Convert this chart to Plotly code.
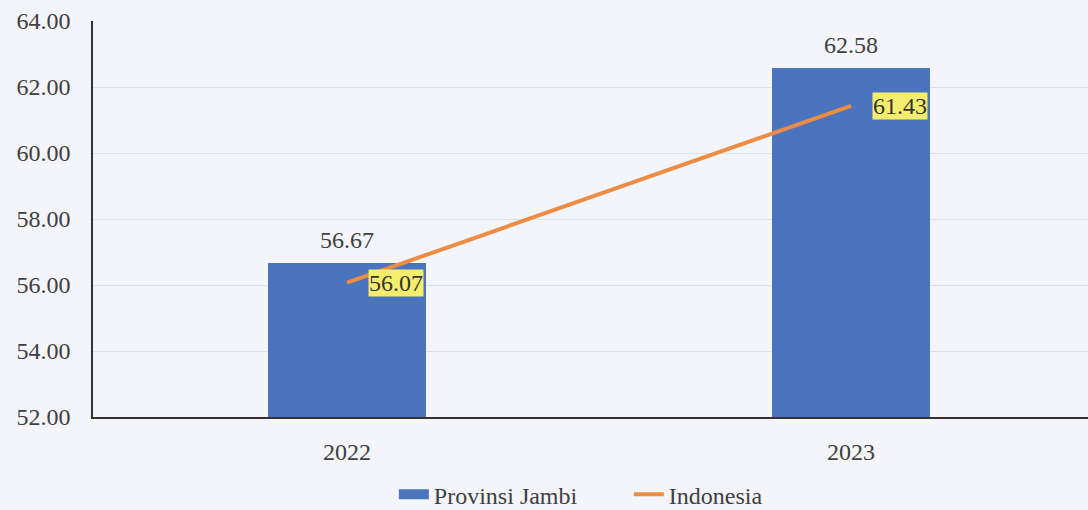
import plotly.graph_objects as go

years = ["2022", "2023"]
jambi = [56.67, 62.58]
indonesia = [56.07, 61.43]
yticks = [52, 54, 56, 58, 60, 62, 64]

xpos = list(range(len(years)))
font_family = "Liberation Serif, Times New Roman, serif"
blue = "#4A74BD"
orange = "#EC8C45"
fs = 24

fig = go.Figure()
fig.add_trace(go.Bar(
    x=xpos, y=[v - 52 for v in jambi], base=52, name="Provinsi Jambi",
    marker=dict(color=blue, line=dict(width=0)), width=0.313,
    showlegend=False,
))
for xi, v in zip(xpos, jambi):
    fig.add_annotation(
        x=xi, y=v, text=f"{v:.2f}", showarrow=False, xanchor="center", yanchor="bottom",
        yshift=8, font=dict(family=font_family, size=fs, color="#404040"),
    )
# legend proxy for bar series (wide bar-like symbol)
fig.add_trace(go.Scatter(
    x=[None], y=[None], mode="lines", name="Provinsi Jambi",
    line=dict(color=blue, width=11),
))
fig.add_trace(go.Scatter(
    x=xpos, y=indonesia, name="Indonesia", mode="lines",
    line=dict(color=orange, width=4),
))
for xi, v in zip(xpos, indonesia):
    fig.add_annotation(
        x=xi, y=v, text=f"{v:.2f}", showarrow=False, xanchor="left", yanchor="middle",
        xshift=21, bgcolor="#F4EE6C", borderpad=0,
        font=dict(family=font_family, size=fs, color="#333333"),
    )

fig.update_layout(
    width=1088, height=510,
    margin=dict(l=93, r=0, t=21, b=93, autoexpand=False),
    paper_bgcolor="#F4F5FA", plot_bgcolor="#F4F5FA",
    font=dict(family=font_family, size=fs, color="#404040"),
    showlegend=True,
    legend=dict(orientation="h", xref="container", yref="container",
                x=0.578, xanchor="center", y=0.03, yanchor="middle",
                font=dict(family=font_family, size=fs, color="#404040"),
                itemwidth=30, entrywidth=190, bgcolor="rgba(0,0,0,0)"),
    bargap=0,
)
fig.update_xaxes(
    range=[-0.504, 1.47], tickvals=xpos, ticktext=years, showgrid=False,
    showline=True, linecolor="#333333", linewidth=1.5, ticks="",
    ticklabelstandoff=12,
    tickfont=dict(family=font_family, size=fs, color="#404040"), zeroline=False,
)
fig.update_yaxes(
    range=[52, 64], tickvals=yticks, ticktext=[f"{t:.2f}" for t in yticks],
    showgrid=True, gridcolor="#DEE1E8", gridwidth=1,
    showline=True, linecolor="#333333", linewidth=1.5, ticks="",
    ticklabelstandoff=16,
    tickfont=dict(family=font_family, size=fs, color="#404040"), zeroline=False,
)

fig.write_html("out.html", config={"displayModeBar": False},
               post_script="document.body.style.margin='0px';")
